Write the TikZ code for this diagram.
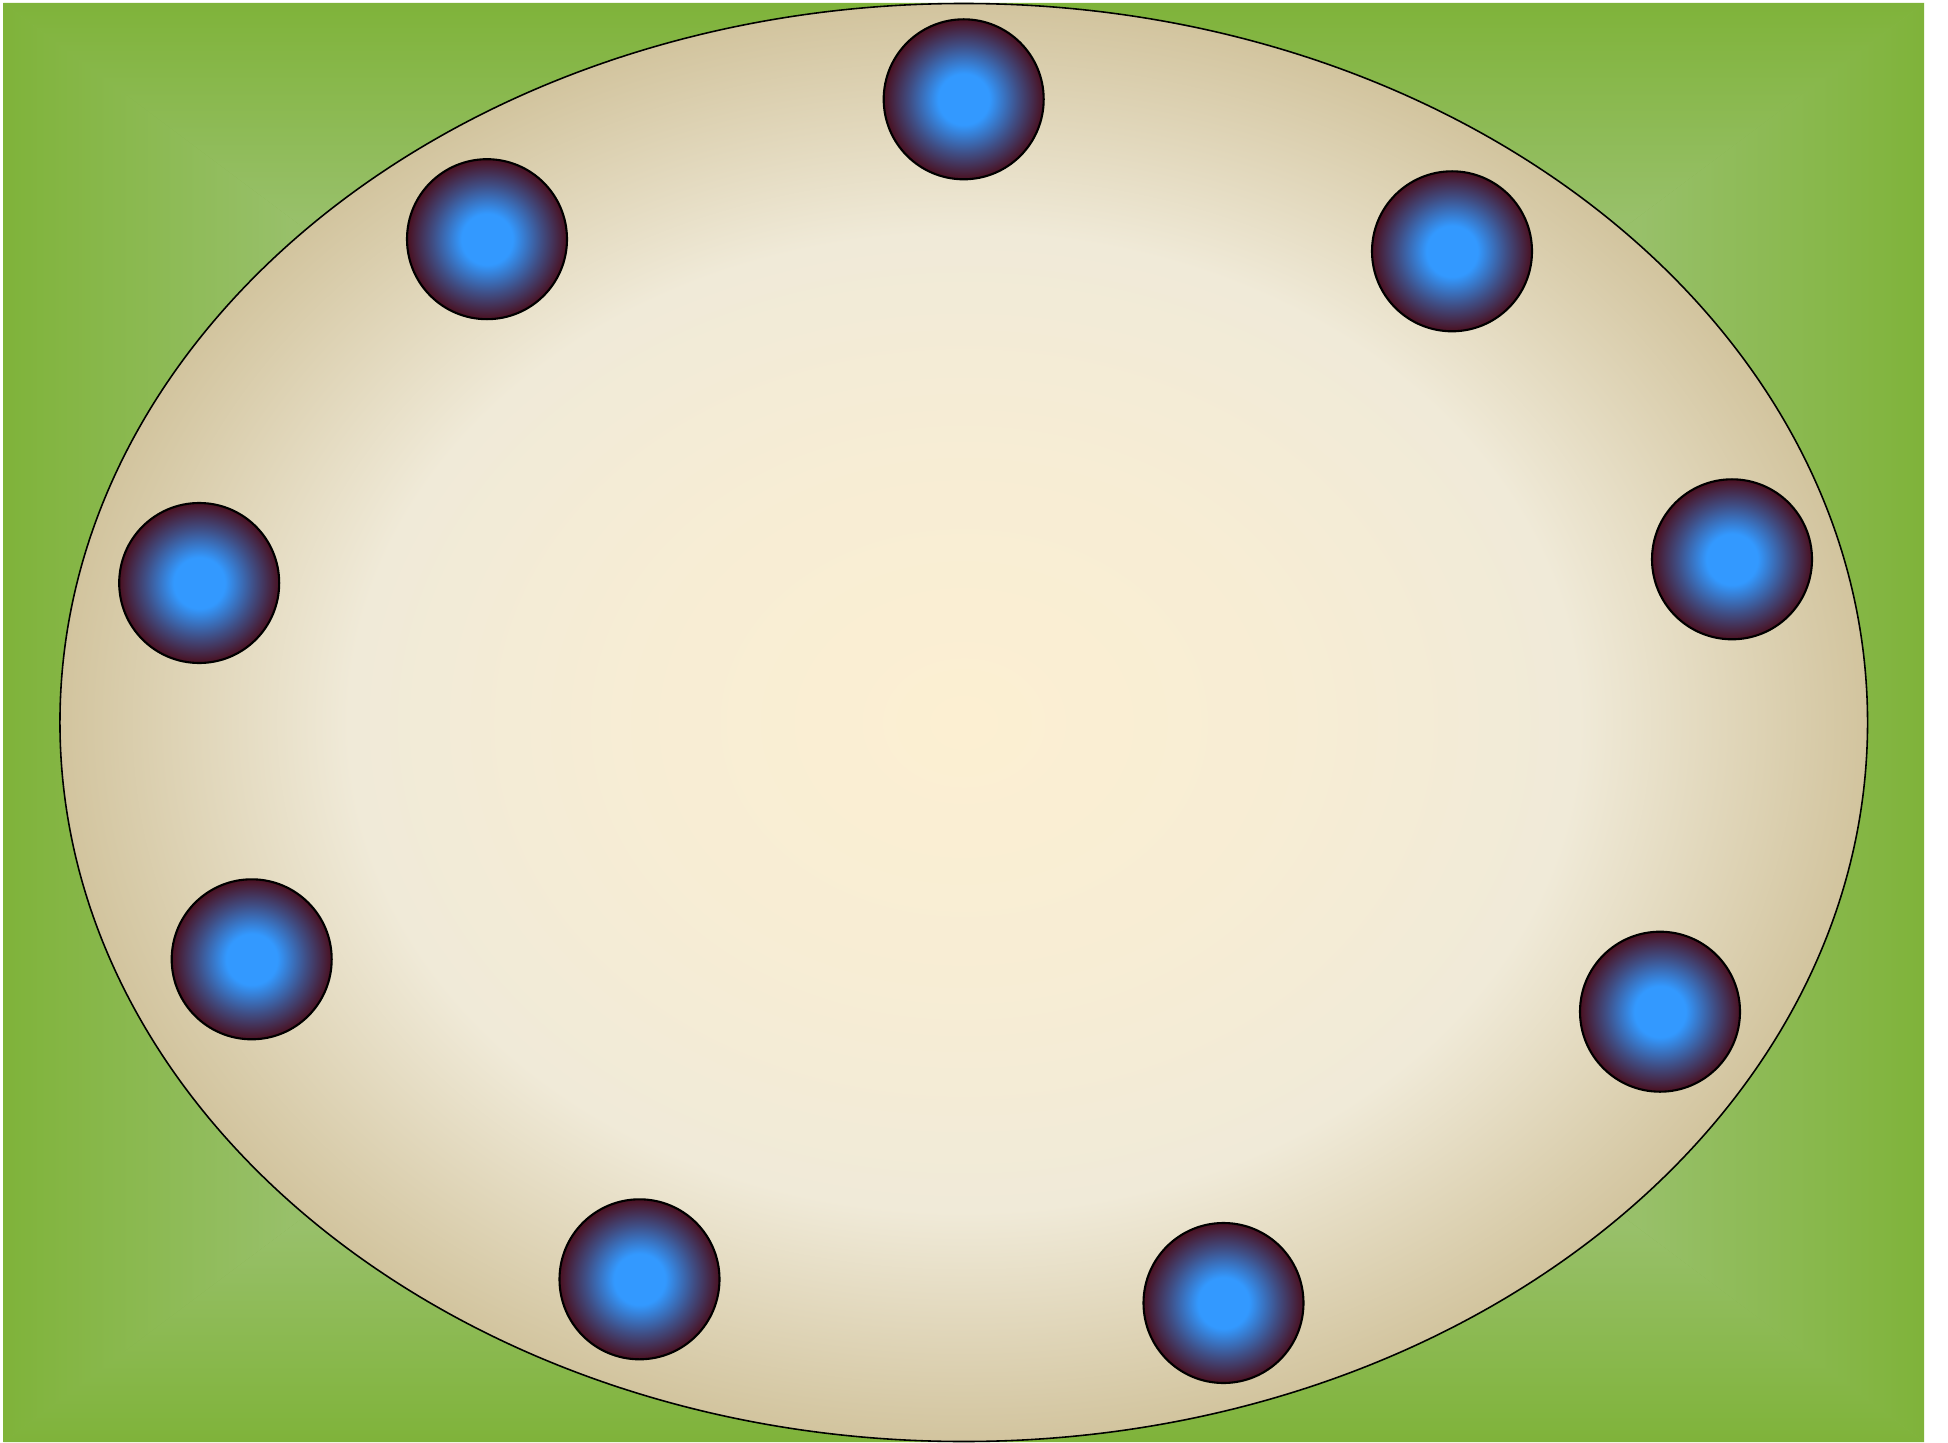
\documentclass[tikz,border=0pt]{standalone}
\usepackage{tikz}
\definecolor{lawndark}{HTML}{7FB33A}
\definecolor{lawnlight}{HTML}{98C06A}
\definecolor{tablecream}{HTML}{FCEFD2}
\definecolor{tablemid}{HTML}{F0EAD8}
\definecolor{tabletan}{HTML}{D2C49E}
\definecolor{seatblue}{HTML}{3399FF}
\definecolor{seatrim}{HTML}{4A1020}
\pgfdeclareverticalshading{lawnshade}{100bp}{%
  color(0bp)=(lawnlight); color(60bp)=(lawnlight); color(75bp)=(lawndark); color(100bp)=(lawndark)}
\pgfdeclareradialshading{tableshade}{\pgfpoint{0bp}{0bp}}{%
  color(0bp)=(tablecream); color(9bp)=(tablecream!60!tablemid); color(17bp)=(tablemid);
  color(25bp)=(tabletan); color(50bp)=(tabletan)}
\pgfdeclareradialshading{seatshade}{\pgfpoint{0bp}{0bp}}{%
  color(0bp)=(seatblue); color(8bp)=(seatblue); color(17bp)=(seatblue!45!seatrim);
  color(25bp)=(seatrim); color(50bp)=(seatrim)}

\begin{document}
\begin{tikzpicture}[
  lawn/.style={shading=lawnshade, draw=none},
  table/.style={shading=tableshade, draw=black, line width=0.45pt},
  seat/.style={circle, draw=black, line width=0.6pt, shading=seatshade,
               minimum size=1.6cm, inner sep=0pt}
]
\useasboundingbox (0,0) rectangle (19.48,14.42);
% lawn: four wedges, each shaded towards its own edge
\coordinate (mid) at (9.6375,7.195);
\coordinate (sw) at (0.035,0);
\coordinate (se) at (19.24,0);
\coordinate (ne) at (19.24,14.39);
\coordinate (nw) at (0.035,14.39);
\fill[lawndark!60!lawnlight] (sw) rectangle (ne);
\shade[lawn] (mid) -- (nw) -- (ne) -- cycle;
\shade[lawn, shading angle=90] (mid) -- (nw) -- (sw) -- cycle;
\shade[lawn, shading angle=180] (mid) -- (sw) -- (se) -- cycle;
\shade[lawn, shading angle=270] (mid) -- (se) -- (ne) -- cycle;
\draw[table] (mid) ellipse [x radius=9.038cm, y radius=7.19cm];
% seats round the table
\foreach \name/\pos in {s1/{(9.637,13.427)}, s2/{(14.52,11.907)}, s3/{(17.32,8.827)},
                        s4/{(16.60,4.303)}, s5/{(12.235,1.39)}, s6/{(6.395,1.627)},
                        s7/{(2.517,4.827)}, s8/{(1.992,8.59)}, s9/{(4.87,12.028)}}
  \node[seat] (\name) at \pos {};
\end{tikzpicture}
\end{document}
